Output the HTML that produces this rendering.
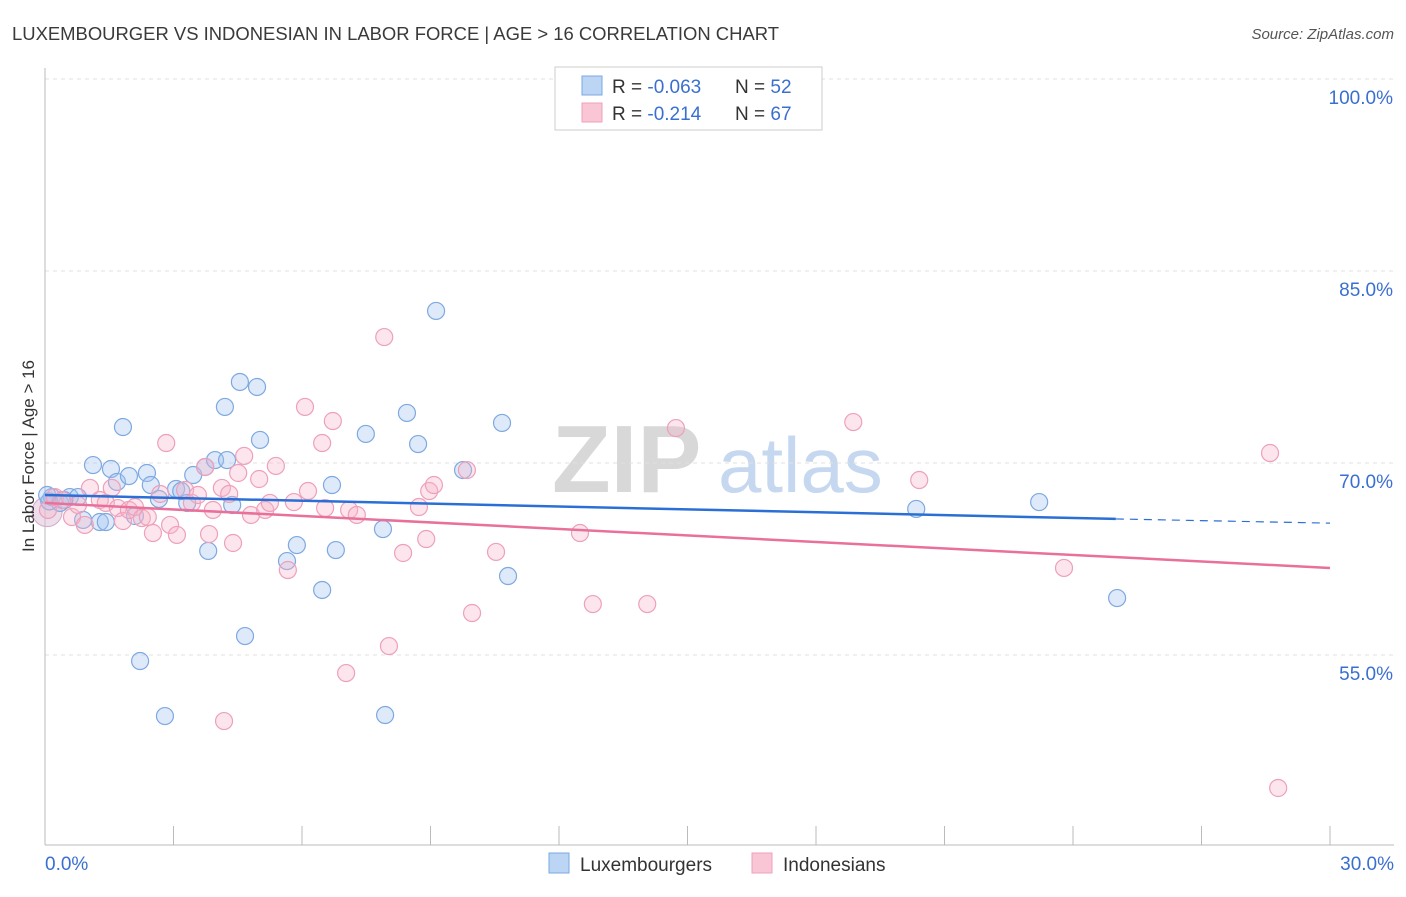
<!DOCTYPE html>
<html><head><meta charset="utf-8"><style>
body{margin:0;background:#fff;font-family:"Liberation Sans",sans-serif;}
svg text{font-family:"Liberation Sans",sans-serif;}
</style></head><body>
<svg id="chart" width="1406" height="892" viewBox="0 0 1406 892" xmlns="http://www.w3.org/2000/svg">
<text x="12" y="40" font-size="18.4" fill="#3a3a3a" textLength="767" lengthAdjust="spacingAndGlyphs">LUXEMBOURGER VS INDONESIAN IN LABOR FORCE | AGE &gt; 16 CORRELATION CHART</text>
<text x="1394" y="39" font-size="15" fill="#555" text-anchor="end" font-style="italic">Source: ZipAtlas.com</text>
<g><text x="552" y="492" font-size="96" fill="#d8d8d8" font-family="Liberation Serif" font-weight="bold">ZIP</text><text x="718" y="492" font-size="78" fill="#c6d8ef">atlas</text></g>
<g id="grid"></g>
<g id="axes"></g>
<g id="marks"></g>
<g id="trends"></g>
<text transform="translate(34,456) rotate(-90)" font-size="17" fill="#333" text-anchor="middle">In Labor Force | Age &gt; 16</text>
<g>
<rect x="555" y="67" width="267" height="63" fill="#fff" stroke="#ccc"/>
<rect x="582" y="76" width="20" height="19" fill="#bcd5f5" stroke="#7aa8e0"/>
<rect x="582" y="103" width="20" height="19" fill="#f9c6d6" stroke="#eea0bb"/>
<text x="612" y="93" font-size="19" fill="#333">R = <tspan fill="#3a6fd0">-0.063</tspan></text>
<text x="735" y="93" font-size="19" fill="#333">N = <tspan fill="#3a6fd0">52</tspan></text>
<text x="612" y="120" font-size="19" fill="#333">R = <tspan fill="#3a6fd0"> -0.214</tspan></text>
<text x="735" y="120" font-size="19" fill="#333">N = <tspan fill="#3a6fd0">67</tspan></text>
</g>
<g>
<rect x="549" y="853" width="20" height="20" fill="#bcd5f5" stroke="#7aa8e0"/>
<text x="580" y="871" font-size="19" fill="#333">Luxembourgers</text>
<rect x="752" y="853" width="20" height="20" fill="#f9c6d6" stroke="#eea0bb"/>
<text x="783" y="871" font-size="19" fill="#333">Indonesians</text>
</g>
</svg>
<script>
const yTicks=[100,85,70,55];
const yTickLabels=["100.0%","85.0%","70.0%","55.0%"];
const xTicks=[0,3,6,9,12,15,18,21,24,27,30];
const xTickLabels=["0.0%","30.0%"];
const luxX=[0.16,0.35,0.58,0.77,0.89,1.12,1.28,1.42,1.54,1.68,1.82,1.96,2.10,2.22,2.38,2.47,2.66,2.80,3.06,3.18,3.32,3.46,3.74,3.81,3.97,4.20,4.25,4.37,4.55,4.67,4.95,5.02,5.65,5.88,6.47,6.70,6.79,7.49,7.89,7.94,8.45,8.71,9.13,9.76,10.67,10.81,20.34,23.21,25.03,0.1,0.05,0.45];
const luxY=[67.34,66.88,67.34,67.34,65.55,69.84,65.39,65.39,69.53,68.52,72.81,68.98,65.86,54.53,69.22,68.28,67.19,50.23,67.97,67.81,66.88,69.06,69.69,63.13,70.23,74.38,70.23,66.72,76.33,56.48,75.94,71.80,62.34,63.59,60.08,68.28,63.20,72.27,64.84,50.31,73.91,71.48,81.88,69.45,73.13,61.17,66.41,66.95,59.45,67.0,67.5,67.1];
const indX=[0.07,0.23,0.40,0.63,0.77,0.93,1.05,1.28,1.42,1.56,1.70,1.82,1.96,2.10,2.26,2.40,2.52,2.69,2.83,2.92,3.08,3.27,3.43,3.57,3.74,3.83,3.92,4.13,4.18,4.30,4.39,4.51,4.65,4.81,5.00,5.14,5.25,5.39,5.67,5.81,6.07,6.14,6.47,6.54,6.72,7.03,7.10,7.28,7.92,8.03,8.36,8.73,8.90,8.97,9.08,9.85,9.97,10.53,12.49,12.79,14.06,14.73,18.87,20.41,23.79,28.60,28.79];
const indY=[66.33,67.34,67.11,65.78,66.72,65.16,68.05,67.11,66.88,68.05,66.48,65.47,66.33,66.56,65.70,65.78,64.53,67.58,71.56,65.16,64.38,67.89,66.88,67.50,69.69,64.45,66.33,68.05,49.84,67.58,63.75,69.22,70.55,65.94,68.75,66.33,66.88,69.77,61.64,66.95,74.38,67.81,71.56,66.48,73.28,53.59,66.33,65.94,79.84,55.70,62.97,66.56,64.06,67.81,68.28,69.45,58.28,63.05,64.53,58.98,58.98,72.73,73.20,68.67,61.80,70.78,44.61];
const luxTrend=[67.5,65.63,65.3]; const luxTrendX=[0,25,30];
const indTrend=[66.88,61.8]; const indTrendX=[0,30];
const NS="http://www.w3.org/2000/svg";
const X=v=>45+v*(1285/30);
const Y=v=>79+(100-v)*12.8;
function mk(tag,attrs,parent){const e=document.createElementNS(NS,tag);for(const k in attrs)e.setAttribute(k,attrs[k]);parent.appendChild(e);return e;}
const grid=document.getElementById('grid'),axes=document.getElementById('axes'),marks=document.getElementById('marks'),trends=document.getElementById('trends');
yTicks.forEach((t,i)=>{
 const l=mk('line',{x1:45,x2:1394,y1:Y(t),y2:Y(t),stroke:'#e0e0e0','stroke-dasharray':'4,4'},grid);
 
 
 const tx=mk('text',{x:1393,y:Y(t)+25,'font-size':19,fill:'#3a6fd0','text-anchor':'end'},axes);
 tx.textContent=yTickLabels[i];
 
 
});
mk('line',{x1:45,x2:45,y1:68,y2:845,stroke:'#bbb'},axes);
mk('line',{x1:45,x2:1394,y1:845,y2:845,stroke:'#bbb'},axes);
xTicks.forEach(t=>{const l=mk('line',{x1:X(t),x2:X(t),y1:826,y2:845,stroke:'#bbb'},axes);
 
 });
const xl0=mk('text',{x:45,y:870,'font-size':19,fill:'#3a6fd0'},axes);xl0.textContent=xTickLabels[0];


const xl1=mk('text',{x:1394,y:870,'font-size':19,fill:'#3a6fd0','text-anchor':'end'},axes);xl1.textContent=xTickLabels[1];


const big=mk('circle',{cx:X(0.05),cy:Y(66.2),r:15,fill:'rgba(220,190,215,0.5)',stroke:'#d8a8c8'},marks);


luxX.forEach((x,i)=>{const c=mk('circle',{cx:X(x),cy:Y(luxY[i]),r:8.5,fill:'rgba(160,196,240,0.35)',stroke:'#7ea9e0','stroke-width':1.2},marks);
 
 });
indX.forEach((x,i)=>{const c=mk('circle',{cx:X(x),cy:Y(indY[i]),r:8.5,fill:'rgba(245,180,200,0.35)',stroke:'#eea0bb','stroke-width':1.2},marks);
 
 });
const bl=mk('line',{x1:X(luxTrendX[0]),y1:Y(luxTrend[0]),x2:X(luxTrendX[1]),y2:Y(luxTrend[1]),stroke:'#2b6fd6','stroke-width':2.5},trends);


const bd=mk('line',{x1:X(luxTrendX[1]),y1:Y(luxTrend[1]),x2:X(luxTrendX[2]),y2:Y(luxTrend[2]),stroke:'#2b6fd6','stroke-width':1.2,'stroke-dasharray':'8,6'},trends);


const pl=mk('line',{x1:X(indTrendX[0]),y1:Y(indTrend[0]),x2:X(indTrendX[1]),y2:Y(indTrend[1]),stroke:'#e8709a','stroke-width':2.5},trends);


</script>
</body></html>
